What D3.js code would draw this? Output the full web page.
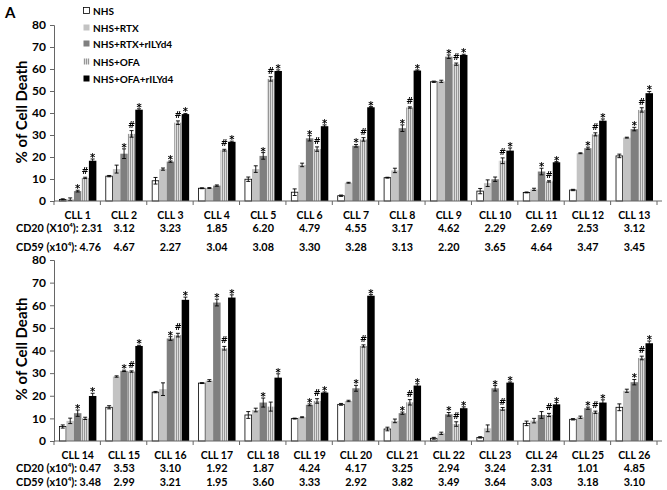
<!DOCTYPE html>
<html><head><meta charset="utf-8">
<script src="https://cdn.jsdelivr.net/npm/d3@7/dist/d3.min.js"></script>
<style>
body{margin:0;background:#fff}
svg{display:block}
text{font-family:Lato,"Open Sans",sans-serif;font-weight:bold;fill:#000}
.mk{filter:grayscale(1)}
.mk text{font-family:"DejaVu Sans",Lato,sans-serif}
</style>
</head><body>
<svg id="c" width="667" height="490"></svg>
<script>
const categories = ["CLL 1","CLL 2","CLL 3","CLL 4","CLL 5","CLL 6","CLL 7","CLL 8","CLL 9","CLL 10","CLL 11","CLL 12","CLL 13",
  "CLL 14","CLL 15","CLL 16","CLL 17","CLL 18","CLL 19","CLL 20","CLL 21","CLL 22","CLL 23","CLL 24","CLL 25","CLL 26"];
const seriesNames = ["NHS","NHS+RTX","NHS+RTX+rILYd4","NHS+OFA","NHS+OFA+rILYd4"];

const nhs      = [0.7,11.3,9.2,5.8,9.9,4.0,2.4,10.6,54.2,4.5,3.9,5.0,20.5, 6.4,14.9,21.6,25.6,11.5,9.9,16.2,5.3,1.2,1.6,7.8,9.6,14.9];
const rtx      = [0.8,14.5,14.5,5.9,14.5,16.4,8.3,13.9,54.4,8.1,5.3,21.7,28.8, 8.9,28.5,22.9,26.7,13.7,10.5,17.7,8.9,3.4,5.6,9.0,10.5,22.2];
const rtxIly   = [4.5,21.5,17.9,7.0,20.5,28.5,25.1,33.1,65.6,9.9,13.4,24.0,32.7, 12.3,31.0,45.3,61.2,17.0,16.0,23.3,12.3,11.8,23.3,11.5,14.5,26.0];
const ofa      = [10.5,30.5,35.6,23.1,55.5,23.6,28.0,42.5,62.2,18.3,8.9,30.3,41.4, 10.0,30.7,46.8,41.0,15.2,17.7,42.0,17.1,7.5,14.2,11.5,12.7,36.7];
const ofaIly   = [18.3,41.5,39.5,26.9,59.1,34.0,42.6,59.3,66.4,22.9,17.6,36.5,49.0, 19.9,42.0,62.4,63.4,28.0,21.4,64.2,24.5,14.5,25.8,16.2,17.0,43.2];

const nhsErr    = [0.3,0.3,1.5,0.2,1.0,1.5,0.3,0.2,0.3,1.2,0.2,0.3,0.8, 0.7,0.7,0.3,0.2,1.5,0.2,0.4,0.8,0.4,0.3,1.0,0.3,1.5];
const rtxErr    = [0.6,1.8,0.5,0.2,1.5,0.8,0.2,1.0,0.5,1.5,0.5,0.2,0.2, 1.2,0.3,2.8,0.4,0.8,0.2,0.3,0.8,0.5,1.5,1.0,0.5,0.7];
const rtxIlyErr = [0.4,2.2,0.3,0.3,1.5,1.2,0.6,1.5,0.8,1.0,1.5,0.5,0.8, 1.4,0.3,0.8,1.5,2.0,0.4,1.3,0.5,0.8,1.2,1.5,0.5,1.2];
const ofaErr    = [0.3,1.5,0.8,0.4,1.0,1.0,0.8,0.3,0.5,1.3,0.3,0.7,1.0, 0.5,0.3,0.8,0.8,2.0,1.0,0.5,1.2,1.0,0.6,0.7,0.5,0.8];
const ofaIlyErr = [0.8,0.4,0.3,0.3,0.5,0.6,0.3,0.3,0.3,1.2,0.3,0.8,0.8, 1.2,0.3,1.2,1.2,1.7,0.3,0.5,0.8,0.6,0.3,0.8,1.2,1.0];

const rtxIlyMark = ["*","*","*","","*","*","*","*","*","","*","*","*", "*","*","*","*","*","*","*","*","*","*","","*","*"];
const ofaMark    = ["#","#","#","#","#","#","#","#","#","#","#","#","#", "","#","#","#","","#","#","#","#","#","#","#","#"];
const ofaIlyMark = ["*","*","*","*","*","*","*","*","*","*","*","*","*", "*","*","*","*","*","*","*","*","*","*","*","*","*"];

const cd20 = ["2.31","3.12","3.23","1.85","6.20","4.79","4.55","3.17","4.62","2.29","2.69","2.53","3.12",
  "0.47","3.53","3.10","1.92","1.87","4.24","4.17","3.25","2.94","3.24","2.31","1.01","4.85"];
const cd59 = ["4.76","4.67","2.27","3.04","3.08","3.30","3.28","3.13","2.20","3.65","4.64","3.47","3.45",
  "3.48","2.99","3.21","1.95","3.60","3.33","2.92","3.82","3.49","3.64","3.03","3.18","3.10"];
const yTicks = [0,10,20,30,40,50,60,70,80];

const values = [nhs, rtx, rtxIly, ofa, ofaIly];
const errors = [nhsErr, rtxErr, rtxIlyErr, ofaErr, ofaIlyErr];
const marks  = [null, null, rtxIlyMark, ofaMark, ofaIlyMark];

const svg = d3.select("#c");
const defs = svg.append("defs");
const pat = defs.append("pattern").attr("id","stripe").attr("patternUnits","userSpaceOnUse")
  .attr("width",2).attr("height",4);
pat.append("rect").attr("width",2).attr("height",4).attr("fill","#e6e6e6");
pat.append("rect").attr("width",1.1).attr("height",4).attr("fill","#969696");

const fills = ["#ffffff","#c3c3c3","#7f7f7f","url(#stripe)","#000000"];
const strokes = ["#000","none","none","none","none"];

svg.append("text").attr("x",5).attr("y",18).attr("font-size",15).text("A");

// legend
const legY = [11,28,44,62,79];
seriesNames.forEach((s,i)=>{
  svg.append("rect").attr("x",83.5).attr("y",legY[i]-3.5).attr("width",6).attr("height",6)
    .attr("fill",fills[i]).attr("stroke",i===0?"#000":"none").attr("stroke-width",0.8);
  svg.append("text").attr("x",93).attr("y",legY[i]).attr("dy","0.35em").attr("font-size",10).text(s);
});

const panels = [
  {start:0, y0:201, y80:25, labelY:215, cd20Y:228, cd59Y:247, p20:"CD20 (X10\u2074): ", p59:"CD59 (x10\u2074): ", ylc:112},
  {start:13, y0:441, y80:260, labelY:455, cd20Y:468, cd59Y:482, p20:"CD20 (x10\u2074): ", p59:"CD59 (x10\u2074): ", ylc:349}
];

panels.forEach(p=>{
  const idx = d3.range(p.start, p.start+13);
  const cats = idx.map(i=>categories[i]);
  const x = d3.scaleBand().domain(cats).range([54,657]);
  const bw = x.bandwidth();
  const xi = d3.scaleBand().domain(seriesNames).range([5, bw-4]);
  const y = d3.scaleLinear().domain([0,80]).range([p.y0, p.y80]);
  const g = svg.append("g");
  const mg = svg.append("g").attr("class","mk");

  // y axis
  const ya = g.append("g").attr("transform","translate(54,0)")
    .call(d3.axisLeft(y).tickValues(yTicks).tickSize(4).tickPadding(4));
  ya.select(".domain").attr("stroke","#666");
  ya.selectAll(".tick line").attr("stroke","#666");
  ya.selectAll("text").attr("font-size",12).style("font-family","Lato, 'Open Sans', sans-serif").attr("font-weight","bold");

  // y label
  g.append("text").attr("transform",`translate(22,${p.ylc}) rotate(-90)`).attr("text-anchor","middle")
    .attr("dy","0.35em").attr("font-size",15).text("% of Cell Death");

  // bars
  idx.forEach((ci,k)=>{
    const cx = x(categories[ci]);
    seriesNames.forEach((s,si)=>{
      const v = values[si][ci], e = errors[si][ci];
      const bx = cx + xi(s), w = xi.bandwidth();
      g.append("rect").attr("x",bx+(si===0?0.4:0)).attr("y",y(v)).attr("width",w-(si===0?0.8:0))
        .attr("height",y(0)-y(v)).attr("fill",fills[si]).attr("stroke",strokes[si]).attr("stroke-width",0.8);
      const mx = bx + w/2;
      g.append("line").attr("x1",mx).attr("x2",mx).attr("y1",y(v-e)).attr("y2",y(v+e)).attr("stroke","#000").attr("stroke-width",0.9);
      [v-e, v+e].forEach(t=>g.append("line").attr("x1",mx-2).attr("x2",mx+2).attr("y1",y(t)).attr("y2",y(t))
        .attr("stroke","#000").attr("stroke-width",0.9));
      if (marks[si] && marks[si][ci]) {
        const m = marks[si][ci];
        mg.append("text").attr("x",mx).attr("y", y(v+e) + (m==="*"? 2 : -3))
          .attr("text-anchor","middle").attr("font-size",m==="*"?10:8.5).text(m);
      }
    });
  });

  // x axis
  g.append("line").attr("x1",54).attr("x2",662).attr("y1",p.y0).attr("y2",p.y0).attr("stroke","#666");
  cats.concat([null]).forEach((c,k)=>{
    const tx = c===null ? 657 : x(c);
    g.append("line").attr("x1",tx).attr("x2",tx).attr("y1",p.y0).attr("y2",p.y0+4).attr("stroke","#666");
  });

  // category labels & CD rows
  idx.forEach((ci,k)=>{
    const cx = x(categories[ci]) + bw/2 + 0.5;
    g.append("text").attr("x",cx).attr("y",p.labelY).attr("dy","0.35em").attr("text-anchor","middle")
      .attr("font-size",10.5).text(categories[ci]);
    if (k===0) {
      g.append("text").attr("x",16).attr("y",p.cd20Y).attr("dy","0.35em").attr("font-size",10.8).text(p.p20 + cd20[ci]);
      g.append("text").attr("x",16).attr("y",p.cd59Y).attr("dy","0.35em").attr("font-size",10.8).text(p.p59 + cd59[ci]);
    } else {
      g.append("text").attr("x",cx).attr("y",p.cd20Y).attr("dy","0.35em").attr("text-anchor","middle").attr("font-size",10.8).text(cd20[ci]);
      g.append("text").attr("x",cx).attr("y",p.cd59Y).attr("dy","0.35em").attr("text-anchor","middle").attr("font-size",10.8).text(cd59[ci]);
    }
  });
});
</script>
</body></html>
